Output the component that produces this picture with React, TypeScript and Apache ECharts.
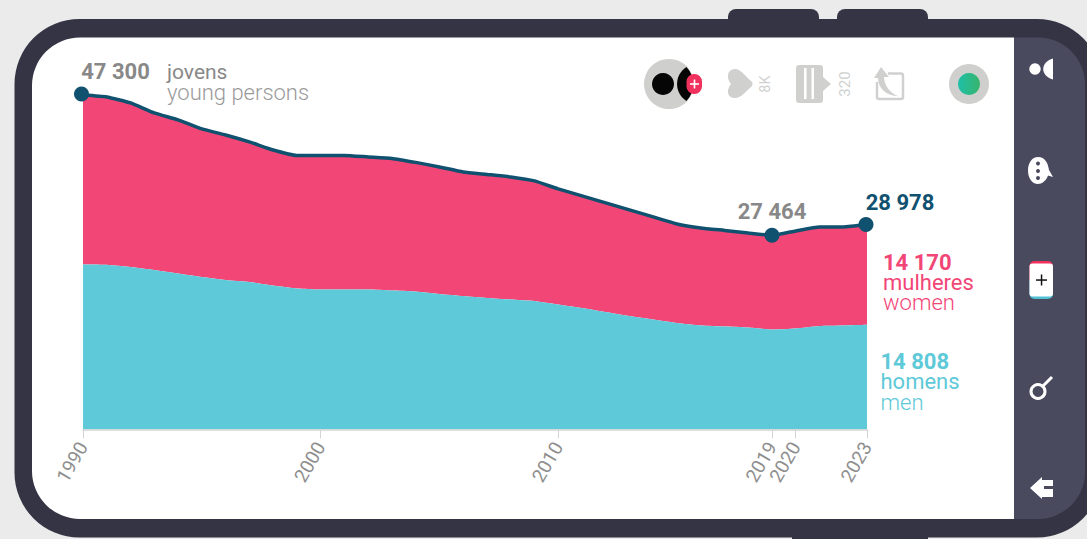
import React, { useEffect, useRef } from "react";
import * as echarts from "echarts";

const years = ["1990","1991","1992","1993","1994","1995","1996","1997","1998","1999","2000","2001","2002","2003","2004","2005","2006","2007","2008","2009","2010","2011","2012","2013","2014","2015","2016","2017","2018","2019","2020","2021","2022","2023"];
const labelledYears = ["1990", "2000", "2010", "2019", "2020", "2023"];
const men = [23340,23300,22980,22560,22070,21570,21150,20860,20370,19940,19800,19800,19800,19660,19520,19170,18880,18600,18390,18180,17680,17190,16620,16050,15560,15060,14710,14570,14430,14140,14290,14640,14710,14808];
const women = [23960,23730,23200,22210,21710,20930,20500,19810,19160,18820,18960,18960,18740,18670,18250,17960,17540,17470,17320,16970,16340,15840,15420,15000,14500,14010,13790,13580,13360,13324,13790,14000,13930,14170];
const total = [47300,47030,46180,44770,43780,42500,41650,40670,39530,38760,38760,38760,38540,38330,37770,37130,36420,36070,35710,35150,34020,33030,32040,31050,30060,29070,28500,28150,27790,27464,28080,28640,28640,28978];

const PINK = "#f24677";
const CYAN = "#5ec9d8";
const NAVY = "#10516f";
const GREY = "#888888";
const ICON = "#d0d1cf";
const FRAME = "#353444";
const SIDE = "#4a4a5f";
const FONT = "Roboto";

const fmt = (v: number) => String(v).replace(/\B(?=(\d{3})+$)/g, " ");

const shapes: Record<string, string> = {
  crescentTop: "M686.5 67 A 20 20 0 0 0 686.5 101 A 25 25 0 0 0 686.5 67 Z",
  heart: "M731 84 C726 78 727 69 735 69 C741 69 745 76 750 80 C753.5 82.5 753.5 85.5 750 88 C745 92 741 98 735 98 C727 98 726 90 731 84 Z",
  shareArrow: "M874 78 L881 67 L889 77 L884 77 C884 85 890 93 898 96 C886 96 878 88 878 78 Z",
  shareBox: "M888 73.5 H901 Q903 73.5 903 76 V97 Q903 99 901 99 H879 Q877 99 877 97 V82",
  crescentSide: "M1053 58.5 C1040 62 1040 76 1053 79.5 Z",
  bubble: "M1038 157 C1045 157 1048 163 1049 170 L1053 177 L1048 175.5 C1046 181 1042 184 1038 184 C1032 184 1028 178 1028 170.5 C1028 163 1032 157 1038 157 Z",
  arrowBack: "M1030 488 L1042 477 L1042 480 L1053 480 L1053 486 L1044 486 L1044 489 L1053 489 L1053 497 L1042 497 L1042 499 Z",
};
Object.keys(shapes).forEach((k) => {
  echarts.graphic.registerShape(k, echarts.graphic.extendPath(shapes[k], {}) as any);
});

const t = (text: string, x: number, y: number, size: number, fill: string, weight: number | string = 400, extra: any = {}) => ({
  type: "text",
  x,
  y,
  z: 10,
  rotation: extra.rotation || 0,
  style: { text, fontSize: size, fontFamily: FONT, fontWeight: weight, fill, textAlign: extra.align || "left", textVerticalAlign: "middle" },
});
const rect = (x: number, y: number, width: number, height: number, fill: string, r: any = 0, z = 10) => ({
  type: "rect", z, shape: { x, y, width, height, r }, style: { fill },
});
const circle = (cx: number, cy: number, r: number, fill: any, z = 10) => ({
  type: "circle", z, shape: { cx, cy, r }, style: { fill },
});
const icon = (type: string, style: any) => ({ type, z: 10, style });

const marked: Record<string, any> = {
  "1990": { fill: GREY, offset: [34, 1], symbolOffset: [-1.5, -1] },
  "2019": { fill: GREY, offset: [0, 0], symbolOffset: [0, 0] },
  "2023": { fill: NAVY, offset: [34, 1], symbolOffset: [-1, 0] },
};

export default function App() {
  const ref = useRef<HTMLDivElement>(null);
  useEffect(() => {
    const chart = echarts.init(ref.current!, undefined, { renderer: "svg" });
    const pick = (_: number, v: string) => labelledYears.includes(v);
    chart.setOption({
      animation: false,
      backgroundColor: "#ebebeb",
      grid: { left: 83, top: 95, width: 784, height: 334.5, containLabel: false },
      xAxis: {
        type: "category",
        data: years,
        boundaryGap: false,
        axisLine: { lineStyle: { color: "#d4d4d4", width: 1.5 } },
        axisTick: { interval: pick, length: 9, lineStyle: { color: "#d4d4d4", width: 1 } },
        axisLabel: { interval: pick, rotate: 60, fontSize: 19, fontFamily: FONT, fontWeight: 400, color: "#8e8e8e", margin: 14 },
        z: 3,
      },
      yAxis: { type: "value", min: 0, max: 47300, show: false },
      series: [
        { type: "line", name: "homens / men", stack: "y", data: men, symbol: "none", smooth: 0.15, lineStyle: { width: 0 }, areaStyle: { color: CYAN, opacity: 1 }, z: 3 },
        { type: "line", name: "mulheres / women", stack: "y", data: women, symbol: "none", smooth: 0.15, lineStyle: { width: 0 }, areaStyle: { color: PINK, opacity: 1 }, z: 2 },
        {
          type: "line",
          name: "jovens / young persons",
          clip: false,
          smooth: 0.15,
          z: 4,
          lineStyle: { color: NAVY, width: 3.5 },
          itemStyle: { color: NAVY },
          showSymbol: true,
          data: total.map((v, i) => {
            const m = marked[years[i]];
            if (!m) return { value: v, symbol: "none" };
            return {
              value: v,
              symbol: "circle",
              symbolSize: 15,
              symbolOffset: m.symbolOffset,
              label: {
                show: true,
                position: "top",
                offset: m.offset,
                formatter: fmt(v),
                fontFamily: FONT,
                fontWeight: 700,
                fontSize: 22,
                color: m.fill,
              },
            };
          }),
        },
      ],
      graphic: {
        elements: [
          // device
          { ...rect(728, 9, 91, 30, FRAME, 8, -5) },
          { ...rect(837, 9, 91, 30, FRAME, 8, -5) },
          { ...rect(792, 520, 136, 30, FRAME, 0, -5) },
          { ...rect(14.5, 19, 1087.5, 518.5, FRAME, 65, -4) },
          { ...rect(32, 37.5, 982, 481.5, "#ffffff", [48, 0, 0, 48], -3) },
          { ...rect(1014, 37.5, 71, 481.5, SIDE, [0, 47, 47, 0], -3) },
          // header
          t("jovens", 167, 72, 21, GREY, 400),
          t("young persons", 167, 92.5, 22, "#9a9a9a", 300),
          // right labels
          t(fmt(women[women.length - 1]), 883, 262, 22, PINK, 700),
          t("mulheres", 883, 282, 22, PINK, 400),
          t("women", 883, 302.5, 22, PINK, 300),
          t(fmt(men[men.length - 1]), 880.5, 361, 22, CYAN, 700),
          t("homens", 880.5, 381.5, 22, CYAN, 400),
          t("men", 880.5, 402.5, 22, CYAN, 300),
          // top icons
          circle(669, 84, 25, "#cfd0ce"),
          circle(663, 84, 11, "#050505"),
          icon("crescentTop", { fill: "#050505" }),
          rect(686.5, 74, 15.5, 20, "#f0315d", 7.5),
          rect(690, 83.2, 9, 1.6, "#ffffff"),
          rect(693.7, 79.5, 1.6, 9, "#ffffff"),
          icon("heart", { fill: ICON }),
          t("8K", 765.5, 84, 14.5, ICON, 400, { rotation: Math.PI / 2, align: "center" }),
          rect(796, 65, 27, 38, ICON, 3),
          { type: "polygon", z: 10, shape: { points: [[823, 77], [831, 84], [823, 91]] }, style: { fill: ICON } },
          rect(804, 68, 2.5, 31, "#ffffff"),
          rect(811.5, 68, 2.5, 31, "#ffffff"),
          t("320", 844.5, 84, 15, ICON, 400, { rotation: Math.PI / 2, align: "center" }),
          icon("shareBox", { fill: "none", stroke: ICON, lineWidth: 2.5 }),
          icon("shareArrow", { fill: ICON }),
          circle(969, 84, 20, "#cfd0ce"),
          circle(969, 84, 11, { type: "linear", x: 0, y: 0, x2: 1, y2: 0, colorStops: [{ offset: 0, color: "#1fbfa8" }, { offset: 1, color: "#37b56c" }] }),
          // side icons
          circle(1035, 69, 5.7, "#ffffff"),
          icon("crescentSide", { fill: "#ffffff" }),
          icon("bubble", { fill: "#ffffff" }),
          circle(1038, 163.5, 2, SIDE),
          circle(1038, 171, 2, SIDE),
          circle(1038, 178, 2, SIDE),
          rect(1029.5, 261, 23.5, 19, "#f0315d", [5, 5, 0, 0]),
          rect(1029.5, 280, 23.5, 19, "#4fc0d4", [0, 0, 5, 5]),
          rect(1029.5, 263.5, 23.5, 33, "#ffffff", 3),
          rect(1036, 279.3, 11, 1.5, "#111111"),
          rect(1040.8, 274.5, 1.5, 11, "#111111"),
          { type: "circle", z: 10, shape: { cx: 1038, cy: 391.5, r: 7 }, style: { fill: "none", stroke: "#ffffff", lineWidth: 3 } },
          { type: "line", z: 10, shape: { x1: 1043, y1: 386, x2: 1052, y2: 377 }, style: { stroke: "#ffffff", lineWidth: 3 } },
          icon("arrowBack", { fill: "#ffffff" }),
        ],
      },
    });
    return () => chart.dispose();
  }, []);
  return <div ref={ref} style={{ position: "fixed", left: 0, top: 0, width: 1087, height: 539 }} />;
}
